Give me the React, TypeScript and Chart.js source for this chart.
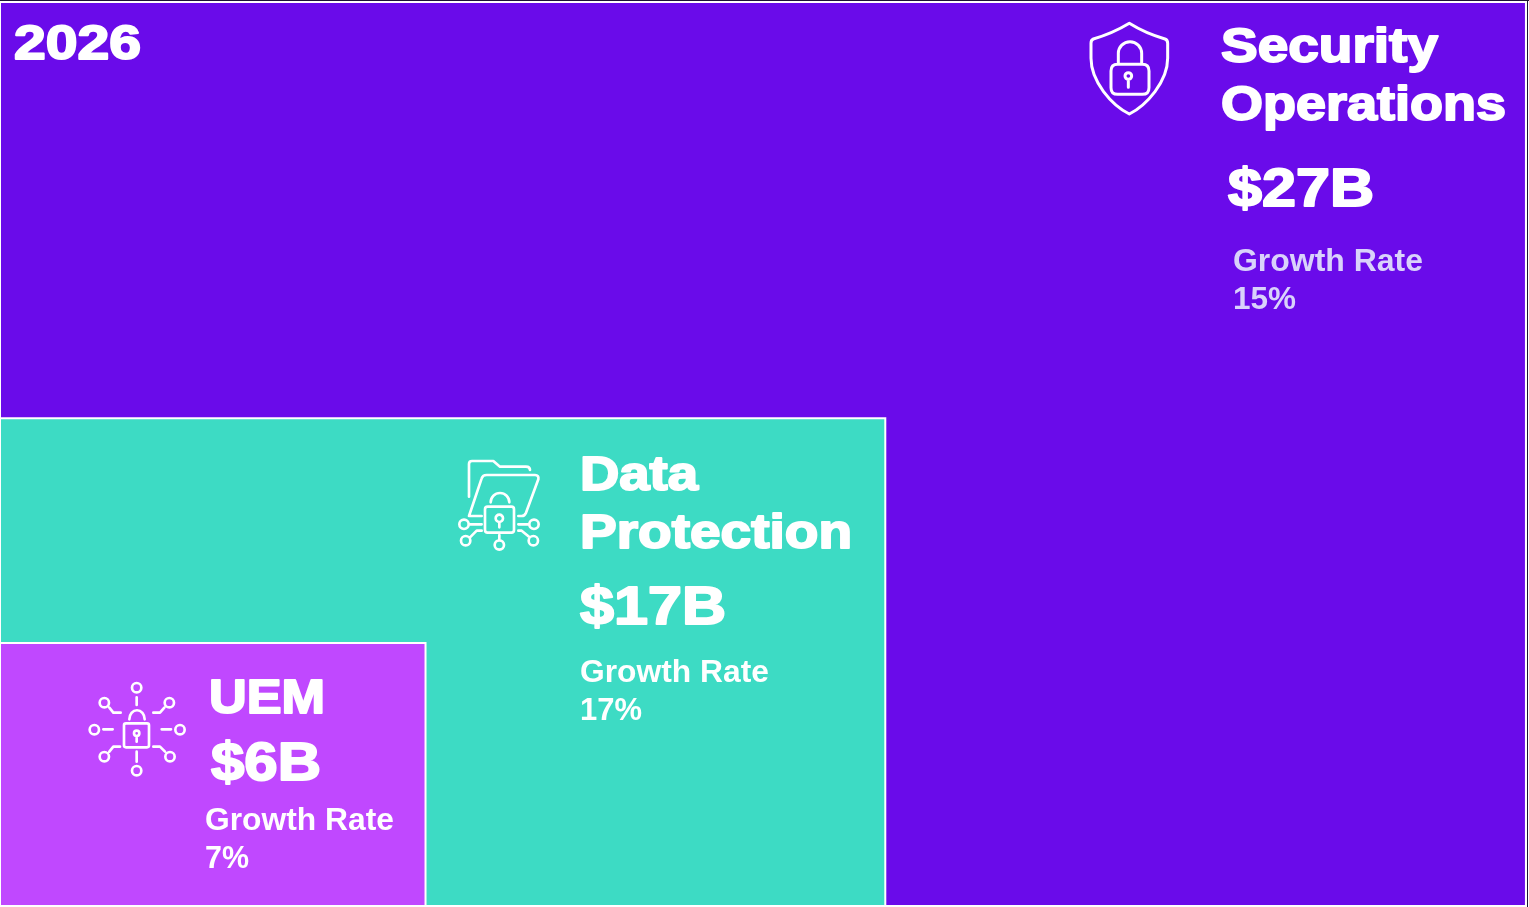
import React, { useEffect, useRef } from "react";
import { Chart, registerables } from "chart.js";

Chart.register(...registerables);

// ---- data ----
const yearLabel = "2026";
const categories = ["Security Operations", "Data Protection", "UEM"];
const marketSizeB = [27, 17, 6];
const growthRatePct = [15, 17, 7];
const growthCaption = "Growth Rate";
// extents of the nested blocks, in percent of the plot
const blockWidthPct = [99.8, 57.9, 27.83];
const blockHeightPct = [99.78, 53.9, 29.1];

// ---- styles and layout ----
const blockColors = ["#6A0BEA", "#3DDBC4", "#C048FF"];
const HEAVY = '"Liberation Sans", Arial, sans-serif';

type T = { x: number; y: number; size: number; w: number; heavy: boolean; color: string };
const W = "#FFFFFF";
const LILAC = "#D9D2FB";
// one entry per category: title lines, value, caption, rate
const textLayout: Record<string, T>[] = [
  {
    t0: { x: 1221, y: 62, size: 49, w: 217, heavy: true, color: W },
    t1: { x: 1221, y: 120, size: 49, w: 285, heavy: true, color: W },
    v: { x: 1228, y: 206, size: 54, w: 146, heavy: true, color: W },
    c: { x: 1233, y: 271, size: 32, w: 190, heavy: false, color: LILAC },
    r: { x: 1233, y: 309, size: 32, w: 63, heavy: false, color: LILAC },
  },
  {
    t0: { x: 580, y: 490, size: 49, w: 118, heavy: true, color: W },
    t1: { x: 580, y: 548, size: 49, w: 272, heavy: true, color: W },
    v: { x: 580, y: 624, size: 54, w: 146, heavy: true, color: W },
    c: { x: 580, y: 682, size: 32, w: 189, heavy: false, color: W },
    r: { x: 580, y: 720, size: 32, w: 62, heavy: false, color: W },
  },
  {
    t0: { x: 209, y: 713, size: 49, w: 116, heavy: true, color: W },
    v: { x: 211, y: 780, size: 54, w: 110, heavy: true, color: W },
    c: { x: 205, y: 830, size: 32, w: 189, heavy: false, color: W },
    r: { x: 205, y: 868, size: 32, w: 44, heavy: false, color: W },
  },
];

function drawLabel(ctx: CanvasRenderingContext2D, text: string, s: T) {
  ctx.save();
  ctx.font = `bold ${s.size}px ${HEAVY}`;
  ctx.textAlign = "left";
  ctx.textBaseline = "alphabetic";
  ctx.fillStyle = s.color;
  ctx.strokeStyle = s.color;
  ctx.lineJoin = "round";
  const sx = s.w / ctx.measureText(text).width;
  ctx.translate(s.x, s.y);
  ctx.scale(sx, 1);
  if (s.heavy) {
    ctx.lineWidth = 2;
    ctx.strokeText(text, 0, 0);
  }
  ctx.fillText(text, 0, 0);
  ctx.restore();
}

// line icons, outlined in 3x crop coordinates
const nodes = (list: number[][], r: number) =>
  list.map(([x, y]) => `M${x + r},${y} A${r},${r} 0 1 1 ${x - r},${y} A${r},${r} 0 1 1 ${x + r},${y}`).join(" ");
const roundRect = (x0: number, y0: number, x1: number, y1: number, r: number) =>
  `M${x0 + r},${y0} H${x1 - r} Q${x1},${y0} ${x1},${y0 + r} V${y1 - r} Q${x1},${y1} ${x1 - r},${y1} H${x0 + r} Q${x0},${y1} ${x0},${y1 - r} V${y0 + r} Q${x0},${y0} ${x0 + r},${y0} Z`;

const icons = [
  {
    ox: 1075,
    oy: 15,
    d:
      "M163,25 C130,45 90,62 55,72 Q48,75 48,85 V130 C48,200 110,270 163,297 C215,270 278,200 278,130 V85 Q278,75 270,72 C235,62 195,45 163,25 Z " +
      roundRect(108, 148, 222, 238, 20) +
      " M130,148 V115 A35,35 0 0 1 200,115 V148 " +
      nodes([[160, 183]], 10) +
      " M160,193 V217",
    lw: 9,
  },
  {
    ox: 440,
    oy: 440,
    d:
      "M87,170 V72 Q87,63 96,63 H160 L180,80 H258 Q270,80 270,90 " +
      "M87,228 L125,115 Q128,105 140,105 H285 Q297,105 295,118 L258,218 Q254,228 245,228 H235 M87,228 H125 " +
      roundRect(135, 200, 222, 278, 8) +
      " M152,187 A28,28 0 0 1 208,187 " +
      nodes([[178, 235]], 11) +
      " M178,246 V262 " +
      nodes([[72, 253], [77, 302], [178, 315], [282, 253], [280, 302]], 14) +
      " M88,253 H125 M90,292 L110,272 H125 M178,285 V300 M235,253 H267 M235,272 H245 L267,290",
    lw: 8,
  },
  {
    ox: 75,
    oy: 670,
    d:
      roundRect(147, 160, 222, 232, 6) +
      " M163,148 A22,26 0 0 1 209,148 " +
      nodes([[185, 190]], 8) +
      " M185,198 V215 " +
      nodes([[185, 53], [185, 302], [58, 179], [315, 179], [88, 98], [283, 98], [88, 260], [285, 260]], 14) +
      " M185,82 V105 M185,245 V275 M85,178 H113 M260,178 H288 M103,113 L115,128 H137 M268,113 L255,128 H235 M103,245 L115,230 H135 M270,245 L255,230 H235",
    lw: 8,
  },
];

const overlayPlugin = {
  id: "blockText",
  beforeDraw(chart: Chart) {
    const { ctx, width, height } = chart;
    ctx.save();
    ctx.fillStyle = "#FFFFFF";
    ctx.fillRect(0, 0, width, height);
    ctx.fillStyle = "#1E1436";
    ctx.fillRect(0, 0, width, 1);
    ctx.fillRect(1527, 0, 1, height);
    ctx.restore();
  },
  afterDatasetsDraw(chart: Chart) {
    const ctx = chart.ctx;
    drawLabel(ctx, yearLabel, { x: 14, y: 59, size: 48, w: 127, heavy: true, color: W });
    categories.forEach((name, i) => {
      const l = textLayout[i];
      const words = l.t1 ? name.split(" ") : [name];
      drawLabel(ctx, words[0], l.t0);
      if (l.t1) drawLabel(ctx, words[1], l.t1);
      drawLabel(ctx, `$${marketSizeB[i]}B`, l.v);
      drawLabel(ctx, growthCaption, l.c);
      drawLabel(ctx, `${growthRatePct[i]}%`, l.r);
    });
    icons.forEach((ic) => {
      ctx.save();
      ctx.translate(ic.ox, ic.oy);
      ctx.scale(1 / 3, 1 / 3);
      ctx.strokeStyle = "#FFFFFF";
      ctx.lineWidth = ic.lw;
      ctx.lineCap = "round";
      ctx.lineJoin = "round";
      ctx.stroke(new Path2D(ic.d));
      ctx.restore();
    });
  },
};

export default function App() {
  const ref = useRef<HTMLCanvasElement>(null);
  useEffect(() => {
    document.body.style.margin = "0";
    document.body.style.overflow = "hidden";
    const n = categories.length;
    const fills = categories.map((label, i) => ({
      label,
      data: [
        { x: 0, y: blockHeightPct[i] },
        { x: blockWidthPct[i], y: blockHeightPct[i] },
        { x: blockWidthPct[i], y: 0 },
      ],
      showLine: true,
      tension: 0,
      pointRadius: 0,
      borderWidth: 0,
      borderColor: blockColors[i],
      backgroundColor: blockColors[i],
      fill: "origin",
      order: 2 * (n - i) + 1,
    }));
    const outlines = categories.map((label, i) => ({
      label: `${label} outline`,
      data: [
        { x: 0, y: 0.1 },
        { x: 0, y: blockHeightPct[i] },
        { x: blockWidthPct[i], y: blockHeightPct[i] },
        { x: blockWidthPct[i], y: 0.1 },
        { x: 0, y: 0.1 },
      ],
      showLine: true,
      tension: 0,
      pointRadius: 0,
      borderColor: "#FFFFFF",
      borderWidth: 2,
      fill: false,
      order: 2 * (n - i),
    }));
    const chart = new Chart(ref.current!, {
      type: "scatter",
      data: { datasets: [...fills, ...outlines] },
      options: {
        animation: false,
        responsive: false,
        layout: { padding: 0 },
        plugins: { legend: { display: false }, tooltip: { enabled: false } },
        scales: {
          x: { type: "linear", min: 0, max: 100, display: false },
          y: { type: "linear", min: 0, max: 100, display: false },
        },
      },
      plugins: [overlayPlugin],
    } as any);
    return () => chart.destroy();
  }, []);
  return (
    <canvas
      ref={ref}
      width={1529}
      height={907}
      style={{ display: "block", position: "fixed", left: 0, top: 0, width: 1529, height: 907 }}
    />
  );
}
